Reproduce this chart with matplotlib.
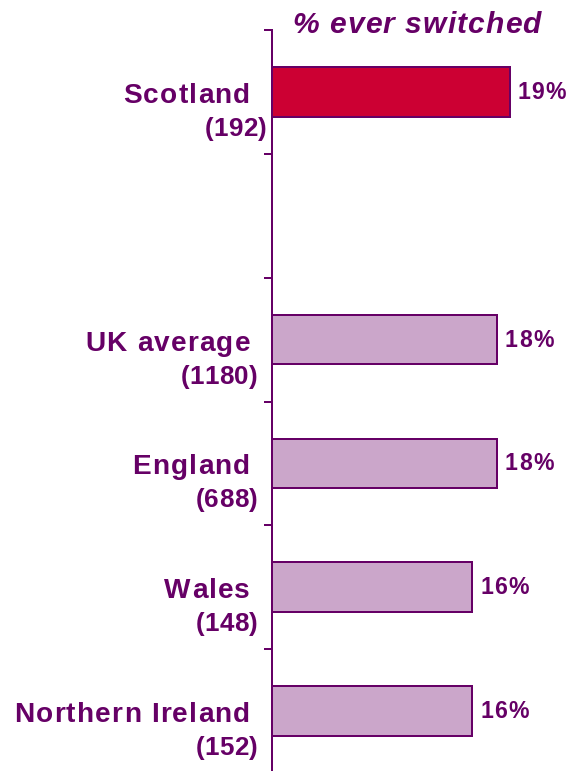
import matplotlib.pyplot as plt
from matplotlib import transforms
from matplotlib.font_manager import FontProperties, findfont, get_font

plt.rcParams['font.family'] = ['Liberation Sans', 'DejaVu Sans']

purple = '#660066'

# regions, sample sizes and share who ever switched (row 1 left empty on purpose)
regions = ['Scotland', 'UK average', 'England', 'Wales', 'Northern Ireland']
bases = ['(192)', '(1180)', '(688)', '(148)', '(152)']
rows = [0, 2, 3, 4, 5]
switched = [19, 18, 18, 16, 16]
bar_colors = ['#cc0033', '#cba6ca', '#cba6ca', '#cba6ca', '#cba6ca']


def spaced_text(ax, s, xy, xycoords, dx, dy, size, track, ha='left', style='normal'):
    # draw a string char by char so we get a bit of letter spacing
    prop = FontProperties(family='Liberation Sans', weight='bold', style=style, size=size)
    font = get_font(findfont(prop))
    font.set_size(size, 72)
    adv = [font.load_char(ord(c)).linearHoriAdvance / 65536 for c in s]
    total = sum(adv) + track * (len(s) - 1)
    x = dx - total if ha == 'right' else dx
    for c, a in zip(s, adv):
        if c != ' ':
            ax.annotate(c, xy, xycoords=xycoords, xytext=(x, dy), textcoords='offset points',
                        ha='left', va='baseline', fontproperties=prop, color=purple)
        x += a + track


fig = plt.figure(figsize=(571 / 72, 771 / 72), dpi=72)
ax = fig.add_axes([272 / 571, -2 / 771, 299 / 571, 743 / 771])

ax.barh(rows, switched, height=0.4, color=bar_colors, edgecolor=purple, linewidth=2)

ax.set_ylim(5.5, -0.5)
ax.set_xlim(0, 299 / 12.5)
ax.set_yticks([r - 0.5 for r in range(7)])
ax.set_yticklabels([])
ax.tick_params(axis='y', direction='out', length=8, width=2, color=purple)
ax.set_xticks([])
for s in ['top', 'right', 'bottom']:
    ax.spines[s].set_visible(False)
ax.spines['left'].set_color(purple)
ax.spines['left'].set_linewidth(2)

trans = transforms.blended_transform_factory(ax.transAxes, ax.transData)
for i, (r, name, n, v) in enumerate(zip(rows, regions, bases, switched)):
    spaced_text(ax, name, (0, r), trans, -22, -11, 28, 1.2, ha='right')
    spaced_text(ax, n, (0, r), trans, -5 if i == 0 else -14, -44, 26, 0.5, ha='right')
    spaced_text(ax, f'{v}%', (v, r), 'data', 8, -7, 23, 1.3)

spaced_text(ax, '% ever switched', (0, 0), 'figure points', 292, 771 - 33, 30, 1.1, style='italic')

fig.savefig('out.png', dpi=72)
